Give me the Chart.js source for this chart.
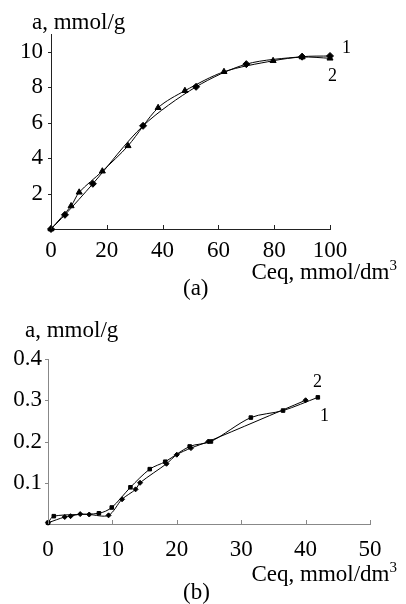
<!DOCTYPE html>
<html>
<head>
<meta charset="utf-8">
<script src="https://cdn.jsdelivr.net/npm/chart.js@4.4.0/dist/chart.umd.min.js"></script>
<style>
body { margin: 0; background: #fff; }
#wrap { position: relative; width: 406px; height: 604px; font-family: 'Liberation Serif', serif; font-size: 23px; color: #000; }
#wrap canvas { position: absolute; left: 0; }
.txt { position: absolute; line-height: 23px; white-space: nowrap; }
.num { font-size: 18px; line-height: 18px; }
.sup { position: relative; top: -9px; font-size: 15px; }
</style>
</head>
<body>
<div id="wrap">
  <canvas id="chartA" width="406" height="300" style="top:0"></canvas>
  <canvas id="chartB" width="406" height="304" style="top:300px"></canvas>

  <div class="txt" style="left:32px;top:10px">a, mmol/g</div>
  <div class="txt num" style="left:342px;top:38px">1</div>
  <div class="txt num" style="left:328px;top:66px">2</div>
  <div class="txt" style="right:9px;top:260px">Ceq, mmol/dm<span class="sup">3</span></div>
  <div class="txt" style="left:183px;top:276px">(a)</div>

  <div class="txt" style="left:25px;top:318px">a, mmol/g</div>
  <div class="txt num" style="left:313px;top:372px">2</div>
  <div class="txt num" style="left:320px;top:406px">1</div>
  <div class="txt" style="right:9px;top:562px">Ceq, mmol/dm<span class="sup">3</span></div>
  <div class="txt" style="left:183px;top:580px">(b)</div>
</div>

<script>
// (a) data
var ceqA1 = [0, 5, 15, 33, 52, 70, 90, 100];
var aA1 = [0, 0.8, 2.55, 5.82, 8.02, 9.3, 9.72, 9.76];
var ceqA2 = [0, 7.2, 10.1, 18.4, 27.6, 38.4, 48, 62, 79.6, 90, 100];
var aA2 = [0, 1.3, 2.07, 3.26, 4.69, 6.84, 7.8, 8.87, 9.49, 9.7, 9.63];
var xTicksA = [0, 20, 40, 60, 80, 100];
var yTicksA = [2, 4, 6, 8, 10];

// (b) data
var ceqB1 = [0, 2.6, 3.5, 5, 6.4, 9.4, 11.5, 13.6, 14.3, 18.4, 20, 22.2, 24.9, 40];
var aB1 = [0.003, 0.017, 0.019, 0.024, 0.023, 0.021, 0.06, 0.084, 0.1, 0.146, 0.168, 0.184, 0.2, 0.3];
var ceqB2 = [0, 0.9, 7.9, 9.9, 12.8, 15.8, 18.2, 22, 25.3, 31.5, 36.5, 41.9];
var aB2 = [0.003, 0.019, 0.026, 0.04, 0.089, 0.133, 0.151, 0.188, 0.2, 0.258, 0.275, 0.307];
var xTicksB = [0, 10, 20, 30, 40, 50];
var yTicksB = [0.1, 0.2, 0.3, 0.4];

function pts(xs, ys) {
    return xs.map((x, i) => ({ x: x, y: ys[i] }));
}

// x ticks point up into the plot, y ticks point left
var tickMarks = {
    id: 'tickMarks',
    afterDraw: (chart) => {
        var ctx = chart.ctx;
        var sx = chart.scales.x;
        var sy = chart.scales.y;
        ctx.save();
        ctx.strokeStyle = chart.options.plugins.tickMarks.color;
        ctx.lineWidth = 1;
        ctx.beginPath();
        sx.ticks.forEach((t) => {
            var px = Math.round(sx.getPixelForValue(t.value)) + 0.5;
            ctx.moveTo(px, sx.top);
            ctx.lineTo(px, sx.top - 4);
        });
        sy.ticks.forEach((t) => {
            var py = Math.round(sy.getPixelForValue(t.value)) + 0.5;
            ctx.moveTo(sy.right, py);
            ctx.lineTo(sy.right - 3, py);
        });
        ctx.stroke();
        ctx.restore();
    }
};

function series(data, shape, r) {
    return {
        data: data,
        showLine: true,
        tension: 0.3,
        borderColor: '#000',
        borderWidth: 1,
        pointStyle: shape,
        pointRadius: r,
        pointBackgroundColor: '#000',
        pointBorderColor: '#000',
        pointBorderWidth: 1,
        clip: false
    };
}

function makeChart(id, sets, opt) {
    var tickFont = { family: 'Liberation Serif', size: 23 };
    return new Chart(document.getElementById(id), {
        type: 'scatter',
        data: { datasets: sets },
        options: {
            responsive: false,
            animation: false,
            layout: { padding: { left: 0, top: opt.top, right: opt.right, bottom: 0 } },
            plugins: { legend: { display: false }, tooltip: { enabled: false }, tickMarks: { color: opt.axis } },
            scales: {
                x: {
                    type: 'linear', min: opt.xMin, max: opt.xMax,
                    afterBuildTicks: (s) => { s.ticks = opt.xTicks.map((v) => ({ value: v })); },
                    afterFit: (s) => { s.height = opt.xH; },
                    grid: { display: false, drawTicks: false },
                    border: { display: true, color: opt.axis, width: 1 },
                    ticks: { font: tickFont, color: '#000', padding: opt.xPad, maxRotation: 0 }
                },
                y: {
                    type: 'linear', min: opt.yMin, max: opt.yMax,
                    afterBuildTicks: (s) => { s.ticks = opt.yTicks.map((v) => ({ value: v })); },
                    afterFit: (s) => { s.width = opt.yW; },
                    grid: { display: false, drawTicks: false },
                    border: { display: true, color: opt.axis, width: 1 },
                    ticks: { font: tickFont, color: '#000', padding: opt.yPad }
                }
            }
        },
        plugins: [tickMarks]
    });
}

var chartA = makeChart('chartA', [
    series(pts(ceqA1, aA1), 'rectRot', 3.5),
    series(pts(ceqA2, aA2), 'triangle', 3.5)
], { top: 34, right: 76, xH: 71, yW: 51, xMin: 0, xMax: 100, yMin: 0, yMax: 11,
     xTicks: xTicksA, yTicks: yTicksA, xPad: 8, yPad: 8, axis: '#222' });

var chartB = makeChart('chartB', [
    series(pts(ceqB1, aB1), 'rectRot', 2.5),
    series(pts(ceqB2, aB2), 'rect', 2.5)
], { top: 59, right: 36, xH: 80, yW: 48, xMin: 0, xMax: 50, yMin: 0, yMax: 0.4,
     xTicks: xTicksB, yTicks: yTicksB, xPad: 12, yPad: 6, axis: '#888' });
</script>
</body>
</html>
